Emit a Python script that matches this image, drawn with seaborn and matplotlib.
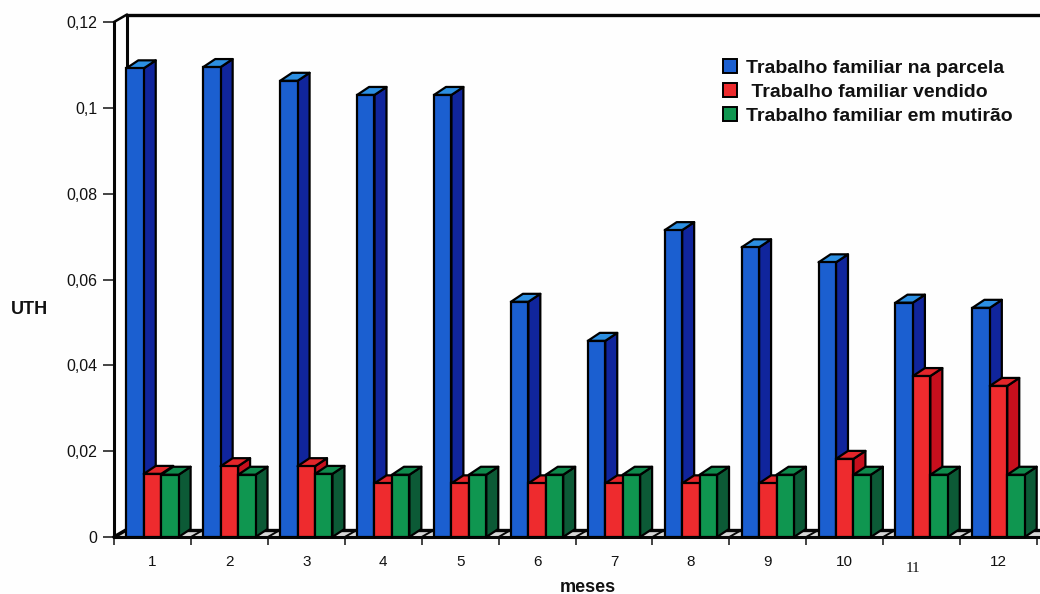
import numpy as np
import pandas as pd
import matplotlib
matplotlib.use("Agg")
import matplotlib.pyplot as plt
from matplotlib.patches import Polygon, Patch
from matplotlib.transforms import ScaledTranslation
import seaborn as sns

# Monthly family labour, in UTH
months = [str(m) for m in range(1, 13)]
series_names = ["Trabalho familiar na parcela",
                "Trabalho familiar vendido",
                "Trabalho familiar em mutirão"]
parcela = [0.1092, 0.1095, 0.1063, 0.1030, 0.1030, 0.0548,
           0.0457, 0.0715, 0.0675, 0.0640, 0.0546, 0.0534]
vendido = [0.0147, 0.0165, 0.0165, 0.0125, 0.0125, 0.0125,
           0.0125, 0.0125, 0.0125, 0.0182, 0.0375, 0.0352]
mutirao = [0.0145, 0.0145, 0.0147, 0.0145, 0.0145, 0.0145,
           0.0145, 0.0145, 0.0145, 0.0145, 0.0145, 0.0145]
y_ticks = [0, 0.02, 0.04, 0.06, 0.08, 0.1, 0.12]
y_tick_labels = ["0", "0,02", "0,04", "0,06", "0,08", "0,1", "0,12"]

front_colors = ["#1b5fd0", "#ee2b2e", "#0f9650"]
side_colors = ["#10259c", "#c70f1d", "#0c5a36"]
top_colors = ["#2c8fe2", "#e3262a", "#0f8a4c"]

df = pd.DataFrame({
    "mes": months * 3,
    "serie": np.repeat(series_names, 12),
    "uth": parcela + vendido + mutirao,
})

sns.set_theme(style="white")
plt.rcParams["font.family"] = ["Liberation Sans", "DejaVu Sans"]

W, H = 1040, 594
fig = plt.figure(figsize=(W / 100, H / 100), dpi=100, facecolor="#fefefe")
ax = fig.add_axes([114 / W, 1 - 537 / H, 923 / W, 515 / H], facecolor="none")

sns.barplot(data=df, x="mes", y="uth", hue="serie", hue_order=series_names,
            order=months, palette=front_colors, width=0.68, saturation=1,
            edgecolor="black", linewidth=1.6, legend=False, ax=ax, zorder=3)
ax.set_xlim(-0.5, 11.5)
ax.set_ylim(0, 0.12)

# Pixel-to-data factors for the oblique depth of the pseudo-3D drawing
px_x = 12 / 923
px_y = 0.12 / 515
bar_dx, bar_dy = 12 * px_x, 8 * px_y
wall_dx, wall_dy = 13 * px_x, 7.5 * px_y
line_kw = dict(color="#050505", clip_on=False, solid_capstyle="round")
right_edge = 11.5 + 5 * px_x

# Back wall, side wall and floor
ax.add_patch(Polygon([(-0.5, 0), (-0.5 + wall_dx, wall_dy),
                      (right_edge, wall_dy), (right_edge, 0)],
                     closed=True, fc="#d8d8d8", ec="none", zorder=1, clip_on=False))
ax.plot([-0.5 + wall_dx, right_edge], [0.12 + wall_dy] * 2, lw=2.4, zorder=2, **line_kw)
ax.plot([-0.5 + wall_dx, right_edge], [wall_dy] * 2, lw=2.4, zorder=2, **line_kw)
ax.plot([-0.5 + wall_dx] * 2, [wall_dy, 0.12 + wall_dy], lw=2.2, zorder=2, **line_kw)
ax.plot([-0.5, -0.5 + wall_dx], [0.12, 0.12 + wall_dy], lw=1.8, zorder=2, **line_kw)
ax.plot([-0.5, -0.5 + wall_dx], [0, wall_dy], lw=2.6, zorder=2, **line_kw)
for k in np.arange(0.5, 11.5):
    ax.plot([k, k + wall_dx], [0, wall_dy], lw=1.4, zorder=2, **line_kw)
ax.plot([-0.5, right_edge], [0, 0], lw=2.2, zorder=2.5, **line_kw)

# Extruded sides and tops; later series are stacked over earlier ones
for s, container in enumerate(ax.containers):
    for bar in container:
        bar.set_zorder(4 + 2 * s)
        x0, w, h = bar.get_x(), bar.get_width(), bar.get_height()
        x1 = x0 + w
        side = [(x1, 0), (x1 + bar_dx, bar_dy), (x1 + bar_dx, h + bar_dy), (x1, h)]
        top = [(x0, h), (x0 + bar_dx, h + bar_dy), (x1 + bar_dx, h + bar_dy), (x1, h)]
        for pts, col in ((side, side_colors[s]), (top, top_colors[s])):
            ax.add_patch(Polygon(pts, closed=True, fc=col, ec="black", lw=1.6,
                                 joinstyle="round", zorder=3 + 2 * s, clip_on=False))

# Axes furniture
for name in ("top", "right", "bottom"):
    ax.spines[name].set_visible(False)
ax.spines["left"].set_linewidth(2.2)
ax.spines["left"].set_color("#050505")
ax.set_yticks(y_ticks, y_tick_labels)
ax.tick_params(axis="y", left=True, length=8, width=1.1, pad=4,
               labelsize=11.5, labelcolor="#111111", color="#111111")
ax.set_xticks(np.arange(-0.5, 12, 1), minor=True)
ax.tick_params(axis="x", which="minor", bottom=True, length=6, width=1.1, color="#111111")
ax.tick_params(axis="x", which="major", bottom=False, length=0, pad=13,
               labelsize=11, labelcolor="#111111")

# The "11" label is set apart from the others, in a serif face
eleven = ax.get_xticklabels()[10]
eleven.set_fontfamily("Liberation Serif")
eleven.set_transform(eleven.get_transform()
                     + ScaledTranslation(-9 / 100, -7 / 100, fig.dpi_scale_trans))

ax.set_xlabel("")
ax.set_ylabel("")
fig.text(29 / W, 1 - 310 / H, "UTH", fontsize=13, fontweight="bold",
         color="#111111", ha="center", va="center")
fig.text(588 / W, 1 - 587 / H, "meses", fontsize=13, fontweight="bold",
         color="#111111", ha="center", va="center")

handles = [Patch(fc=c, ec="black", lw=1.4) for c in front_colors]
labels = [series_names[0], " " + series_names[1], series_names[2]]
legend = ax.legend(handles, labels, loc="upper left",
                   bbox_to_anchor=((723 - 114) / 923, (537 - 59) / 515),
                   frameon=False, handlelength=0.72, handleheight=0.72,
                   handletextpad=0.45, labelspacing=0.32, borderpad=0, borderaxespad=0,
                   prop={"weight": "bold", "size": 14})
legend.set_zorder(20)
for t in legend.get_texts():
    t.set_color("#111111")

fig.savefig("out.png", dpi=100, facecolor=fig.get_facecolor())
